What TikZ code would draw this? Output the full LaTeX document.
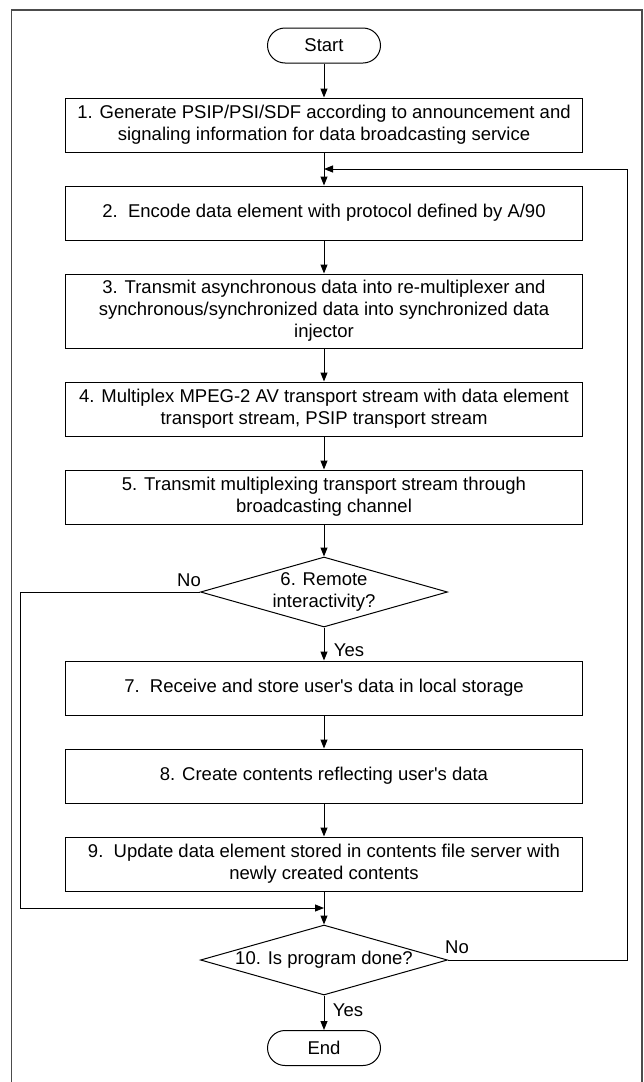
\documentclass[tikz,border=0pt]{standalone}
\usepackage{fontspec}
\newfontfamily\chartfont{Liberation Sans}
\usetikzlibrary{arrows.meta,shapes.geometric,shapes.misc}
\begin{document}
\begin{tikzpicture}[x=1pt,y=-1pt,
  every node/.style={font=\chartfont\fontsize{18.5}{22}\selectfont},
  stepbox/.style={draw, line width=1pt, rectangle, minimum width=517pt,
    minimum height=54pt, inner sep=0pt, align=center},
  tallbox/.style={stepbox, minimum height=74pt},
  decision/.style={draw, line width=1pt, diamond, aspect=3.53,
    minimum width=247pt, minimum height=70pt, inner sep=0pt, align=center},
  terminal/.style={draw, line width=1pt, rounded rectangle,
    minimum width=113pt, minimum height=35pt, inner sep=0pt},
  arr/.style={-{Triangle[length=9pt,width=7pt]}, line width=1pt},
  link/.style={line width=1pt},
  frameline/.style={line width=1.4pt, black!70}]

\useasboundingbox (0,0) rectangle (644,1082);

% outer frame (open at the bottom edge of the page)
\draw[frameline] (11.5,1100) -- (11.5,10) -- (642,10) -- (642,1100);

% flow steps
\node[terminal] (start) at (324,45.5) {Start};
\node[stepbox] (b1) at (324,125) {1. Generate PSIP/PSI/SDF according to announcement and\\signaling information for data broadcasting service};
\node[stepbox] (b2) at (324,213) {2.\ \ Encode data element with protocol defined by A/90};
\node[tallbox] (b3) at (324,311) {3. Transmit asynchronous data into re-multiplexer and\\synchronous/synchronized data into synchronized data\\injector};
\node[stepbox] (b4) at (324,409) {4. Multiplex MPEG-2 AV transport stream with data element\\transport stream, PSIP transport stream};
\node[stepbox] (b5) at (324,497) {5. Transmit multiplexing transport stream through\\broadcasting channel};
\node[decision] (d6) at (324,592) {6. Remote\\interactivity?};
\node[stepbox] (b7) at (324,688) {7.\ \ Receive and store user's data in local storage};
\node[stepbox] (b8) at (324,776) {8. Create contents reflecting user's data};
\node[stepbox] (b9) at (324,864) {9.\ \ Update data element stored in contents file server with\\newly created contents};
\node[decision] (d10) at (324,960) {10. Is program done?};
\node[terminal] (end) at (324,1048) {End};

% junction points of the return paths
\coordinate (fb) at (324,169);
\coordinate (fbx) at (627.5,169);
\coordinate (join) at (324,908);
\coordinate (nox) at (20.5,908);

% main flow
\draw[arr] (start) -- (b1);
\draw[arr] (b1) -- (b2);
\draw[arr] (b2) -- (b3);
\draw[arr] (b3) -- (b4);
\draw[arr] (b4) -- (b5);
\draw[arr] (b5) -- (d6);
\draw[arr] (d6) -- (b7);
\draw[arr] (b7) -- (b8);
\draw[arr] (b8) -- (b9);
\draw[arr] (b9) -- (d10);
\draw[arr] (d10) -- (end);

% bypass and loop back
\draw[arr] (d6.west) -| (nox) -- (join);
\draw[arr] (d10.east) -| (fbx) -- (fb);

% branch labels
\node (no6) at (189,580) {No};
\node (yes6) at (349,650) {Yes};
\node (no10) at (457,947) {No};
\node (yes10) at (348,1010) {Yes};
\end{tikzpicture}
\end{document}
